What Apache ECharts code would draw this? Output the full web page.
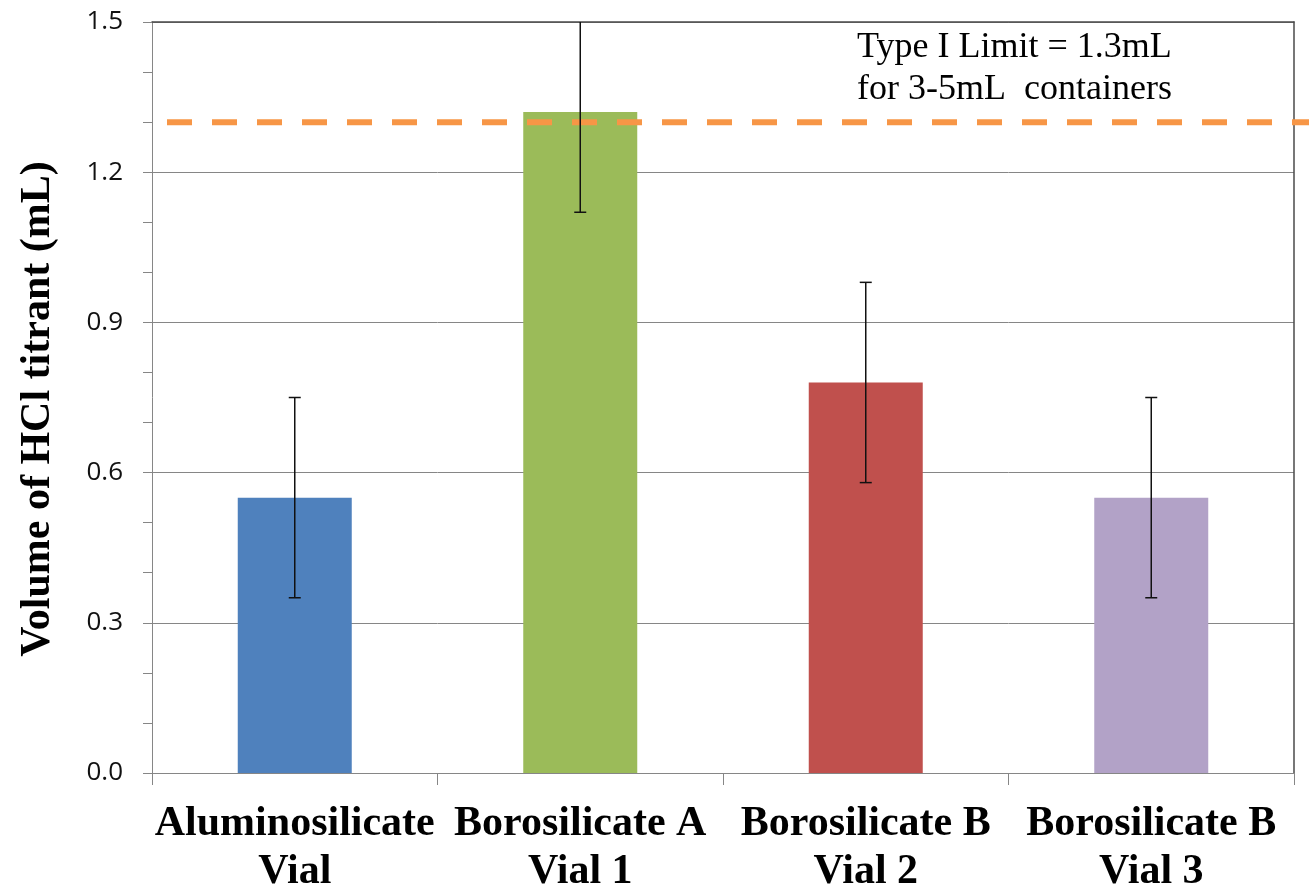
<!DOCTYPE html>
<html>
<head>
<meta charset="utf-8">
<script src="https://cdn.jsdelivr.net/npm/echarts@6/dist/echarts.min.js"></script>
<style>
  html, body { margin: 0; padding: 0; background: #fff; }
  #chart { width: 1309px; height: 889px; }
</style>
</head>
<body>
<div id="chart"></div>
<script>
// Vial types (two-line labels)
const categories = [
  'Aluminosilicate\nVial',
  'Borosilicate A\nVial 1',
  'Borosilicate B\nVial 2',
  'Borosilicate B\nVial 3'
];
// Mean HCl titrant volume (mL) and ± error
const meanVolume = [0.55, 1.32, 0.78, 0.55];
const errorVolume = [0.20, 0.20, 0.20, 0.20];
const barColors = ['#4F81BD', '#9BBB59', '#C0504D', '#B2A2C7'];
// Type I limit for 3-5 mL containers
const typeILimit = 1.3;
// Y axis ticks
const yMin = 0, yMax = 1.5, yStep = 0.3;

const errorData = meanVolume.map((m, i) => [i, m - errorVolume[i], m + errorVolume[i]]);

const chart = echarts.init(document.getElementById('chart'), null, { renderer: 'canvas' });

const gridColor = '#868686';
const borderColor = '#4a4a4a';

const option = {
  backgroundColor: '#fff',
  animation: false,
  grid: { left: 152, right: 15, top: 22, bottom: 116, containLabel: false, outerBoundsMode: 'none' },
  xAxis: [
    {
      type: 'category',
      data: categories,
      boundaryGap: true,
      axisLine: { show: true, lineStyle: { color: gridColor, width: 1 } },
      axisTick: { show: true, length: 12, lineStyle: { color: gridColor }, alignWithLabel: false },
      axisLabel: {
        interval: 0,
        margin: 27,
        color: '#000',
        fontFamily: 'Liberation Serif',
        fontWeight: 'bold',
        fontSize: 42,
        lineHeight: 48
      },
      splitLine: { show: false }
    },
    {
      // top frame line
      type: 'value', position: 'top', min: 0, max: 1,
      axisLine: { show: true, onZero: false, lineStyle: { color: borderColor, width: 1.5 } },
      axisTick: { show: false }, axisLabel: { show: false }, splitLine: { show: false }
    }
  ],
  yAxis: [
    {
      type: 'value',
      min: yMin, max: yMax, interval: yStep,
      axisLine: { show: true, lineStyle: { color: gridColor, width: 1 } },
      axisTick: { show: true, length: 9, lineStyle: { color: gridColor } },
      minorTick: { show: true, splitNumber: 3, length: 9, lineStyle: { color: gridColor } },
      axisLabel: {
        margin: 29,
        color: '#111',
        fontFamily: 'Open Sans',
        fontSize: 26,
        formatter: v => v.toFixed(1)
      },
      splitLine: { show: true, lineStyle: { color: gridColor, width: 1 } }
    },
    {
      // right frame line
      type: 'value', position: 'right', min: 0, max: 1,
      axisLine: { show: true, onZero: false, lineStyle: { color: borderColor, width: 1.5 } },
      axisTick: { show: false }, axisLabel: { show: false }, splitLine: { show: false }
    }
  ],
  graphic: [
    {
      type: 'text',
      x: 38, y: 409,
      rotation: Math.PI / 2,
      style: {
        text: 'Volume of HCl titrant (mL)',
        font: 'bold 42px "Liberation Serif"',
        fill: '#000',
        textAlign: 'center',
        textVerticalAlign: 'middle'
      },
      z: 10
    },
    {
      type: 'text',
      x: 857, y: 27,
      style: {
        text: 'Type I Limit = 1.3mL\nfor 3-5mL  containers',
        font: '36px "Liberation Serif"',
        lineHeight: 42,
        fill: '#000',
        textAlign: 'left',
        textVerticalAlign: 'top'
      },
      z: 10
    }
  ],
  series: [
    {
      type: 'bar',
      xAxisIndex: 0, yAxisIndex: 0,
      barWidth: 114,
      data: meanVolume.map((v, i) => ({ value: v, itemStyle: { color: barColors[i] } })),
      z: 2
    },
    {
      // error bars
      type: 'custom',
      xAxisIndex: 0, yAxisIndex: 0,
      clip: true,
      data: errorData,
      renderItem: function (params, api) {
        const i = api.value(0);
        const lo = api.coord([i, api.value(1)]);
        const hi = api.coord([i, api.value(2)]);
        const half = 6;
        const st = { stroke: '#111', lineWidth: 1.5 };
        return {
          type: 'group',
          children: [
            { type: 'line', shape: { x1: lo[0], y1: lo[1], x2: hi[0], y2: hi[1] }, style: st },
            { type: 'line', shape: { x1: lo[0] - half, y1: lo[1], x2: lo[0] + half, y2: lo[1] }, style: st },
            { type: 'line', shape: { x1: hi[0] - half, y1: hi[1], x2: hi[0] + half, y2: hi[1] }, style: st }
          ]
        };
      },
      z: 4
    },
    {
      // Type I limit line, running past the right frame
      type: 'custom',
      xAxisIndex: 0, yAxisIndex: 0,
      clip: false,
      data: [[0, typeILimit]],
      renderItem: function (params, api) {
        const p = api.coord([0, api.value(1)]);
        const x0 = params.coordSys.x + 15;
        const x1 = api.getWidth();
        return {
          type: 'line',
          shape: { x1: x0, y1: p[1], x2: x1, y2: p[1] },
          style: { stroke: '#F79646', lineWidth: 6, lineDash: [25, 20], lineCap: 'butt' }
        };
      },
      z: 3
    }
  ]
};

chart.setOption(option);
</script>
</body>
</html>
